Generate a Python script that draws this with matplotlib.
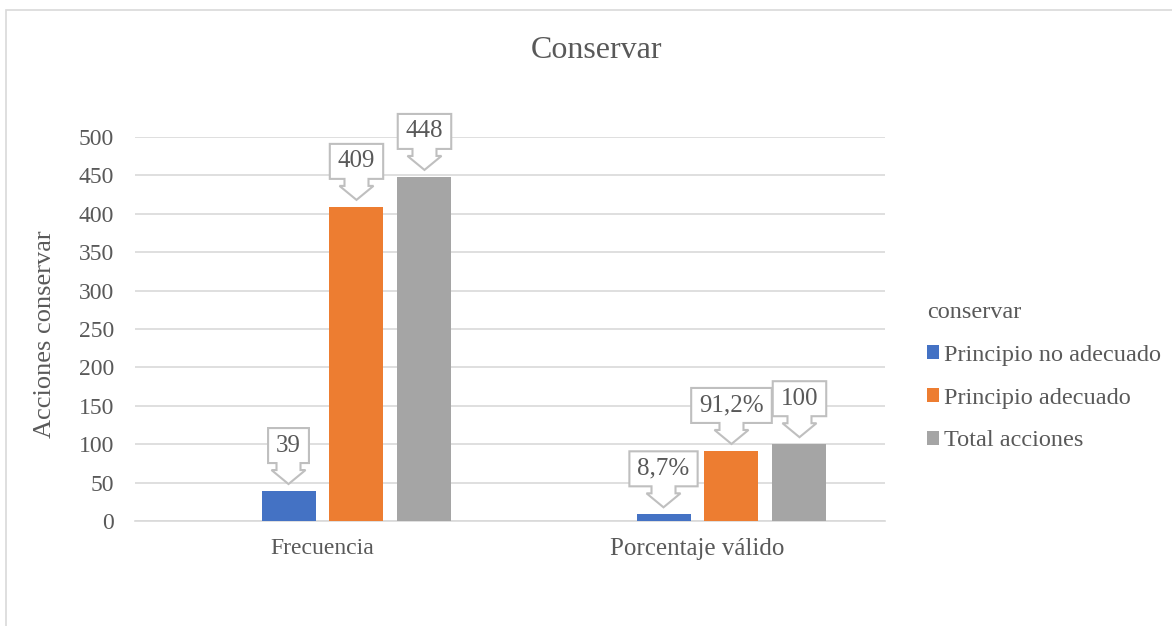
import numpy as np
import matplotlib.pyplot as plt
import matplotlib.transforms as mtransforms
from matplotlib.patches import Polygon, Rectangle

# datos
categorias = ['Frecuencia', 'Porcentaje válido']
series = ['Principio no adecuado', 'Principio adecuado', 'Total acciones']
no_adecuado = [39, 8.7]
adecuado = [409, 91.2]
total = [448, 100]
etiquetas_no_adecuado = ['39', '8,7%']
etiquetas_adecuado = ['409', '91,2%']
etiquetas_total = ['448', '100']
colores = ['#4472C4', '#ED7D31', '#A5A5A5']

plt.rcParams['font.family'] = ['Liberation Serif', 'DejaVu Serif']
GRIS_TEXTO = '#595959'
FS = 17

fig = plt.figure(figsize=(11.72, 6.26), dpi=100)
ax = fig.add_axes([135 / 1172, 1 - 521 / 626, 750 / 1172, 384 / 626])

# marco del grafico
fig.patches.append(Rectangle((6 / 1172, -0.05), 1.1, 1 - 10 / 626 + 0.05,
                             transform=fig.transFigure, fill=False,
                             edgecolor='#D9D9D9', linewidth=1.2))

x = np.arange(len(categorias))
ancho = 0.144
paso = 0.1813
datos = [no_adecuado, adecuado, total]
etiquetas = [etiquetas_no_adecuado, etiquetas_adecuado, etiquetas_total]
offsets = [-0.5, 0.5, 1.5]

barras = []
for vals, col, off, nombre in zip(datos, colores, offsets, series):
    b = ax.bar(x + off * paso, vals, ancho, color=col, label=nombre, zorder=3)
    barras.append(b)

ax.set_xlim(-0.5, 1.5)
ax.set_ylim(0, 500)
ax.set_yticks(np.arange(0, 501, 50))
ax.set_xticks(x)
ax.set_xticklabels(categorias)
ax.tick_params(axis='both', length=0, labelsize=FS, labelcolor=GRIS_TEXTO)
ax.tick_params(axis='y', pad=15)
ax.tick_params(axis='x', pad=12)
ax.get_xticklabels()[1].set_fontsize(18)
ax.grid(axis='y', color='#D9D9D9', linewidth=1.2, zorder=0)
for s in ['top', 'right', 'left']:
    ax.spines[s].set_visible(False)
ax.spines['bottom'].set_color('#D9D9D9')
ax.spines['bottom'].set_linewidth(1.2)

fig.text(596 / 1172, 1 - 50 / 626, 'Conservar', ha='center', va='center',
         fontsize=23, color=GRIS_TEXTO)
fig.text(45 / 1172, 1 - 334 / 626, 'Acciones conservar', ha='center', va='center',
         rotation=90, fontsize=19, color=GRIS_TEXTO)

# etiquetas tipo "llamada" con flecha hacia abajo
renderer = fig.canvas.get_renderer()
px = 1 / 100.0
for vals, labs, off in zip(datos, etiquetas, offsets):
    for xi, v, lab in zip(x, vals, labs):
        xc = xi + off * paso
        trans = fig.dpi_scale_trans + mtransforms.ScaledTranslation(xc, v, ax.transData)
        t = ax.text(0, 45.5 * px, lab, transform=trans, ha='center', va='center',
                    fontsize=18, color=GRIS_TEXTO, zorder=6)
        w = t.get_window_extent(renderer).width + 16
        h = w / 2
        verts = [(0, 7), (17, 21), (12, 21), (12, 28), (h, 28), (h, 63),
                 (-h, 63), (-h, 28), (-12, 28), (-12, 21), (-17, 21)]
        verts = [(a * px, b * px) for a, b in verts]
        ax.add_patch(Polygon(verts, closed=True, transform=trans, facecolor='white',
                             edgecolor='#BFBFBF', linewidth=1.5, zorder=5,
                             clip_on=False))

leg = ax.legend(handles=barras, title='conservar', loc='upper left',
                bbox_to_anchor=(905 / 1172, 1 - 280 / 626), bbox_transform=fig.transFigure,
                frameon=False, fontsize=17.5, title_fontsize=17.5,
                handlelength=0.5, handleheight=0.5, handletextpad=0.2,
                labelspacing=0.9, alignment='left')
for txt in leg.get_texts():
    txt.set_color(GRIS_TEXTO)
leg.get_title().set_color(GRIS_TEXTO)

fig.savefig('out.png', dpi=100)
